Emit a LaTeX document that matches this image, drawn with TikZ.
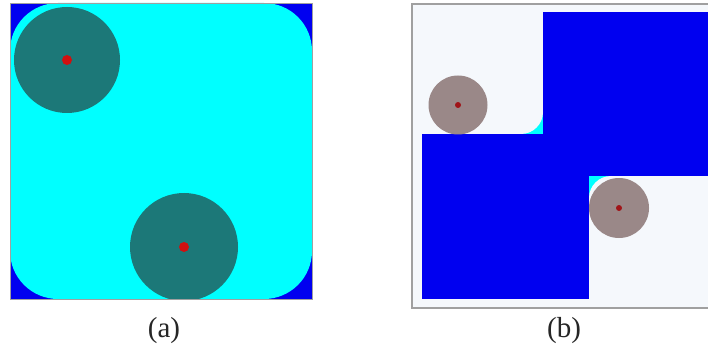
\documentclass[tikz,border=0pt]{standalone}
\usepackage{fontspec}
\setmainfont{Liberation Serif}
\usetikzlibrary{positioning}
\definecolor{Blu}    {HTML}{0000F0}
\definecolor{Cyn}    {HTML}{00FFFF}
\definecolor{TealD}  {HTML}{1C7878}
\definecolor{Paper}  {HTML}{F5F8FC}
\definecolor{Stone}  {HTML}{9A8888}
\definecolor{Dot}    {HTML}{D01010}
\definecolor{DotD}   {HTML}{A01418}
\definecolor{Frame}  {HTML}{A0A0A0}
\tikzset{
  robot/.style={fill=#1},
  centre/.style={fill=#1},
  caption/.style={
    font=\fontsize{29}{32}\selectfont, text=black!85,
    inner sep=0pt,
  },
}

\begin{document}
\begin{tikzpicture}[x=1pt,y=-1pt]
    \useasboundingbox (0,0) rectangle (708,355);

    % (a) free space with rounded corners
    \fill[Blu] (10,3) rectangle (312,299);
    \fill[Cyn, rounded corners=48pt] (10,3) rectangle (312,299);
    \begin{scope}
      \clip (10,3) rectangle (312,299);
      \fill[robot=TealD] (67,60)  circle[radius=53];
      \fill[robot=TealD] (184,247) circle[radius=54];
    \end{scope}
    \fill[centre=Dot] (67,60)  circle[radius=5];
    \fill[centre=Dot] (184,247) circle[radius=5];
    \draw[Frame, line width=0.8pt] (10,3) rectangle (312,299);

    % (b) obstacles and corner fillets
    \draw[Frame, line width=1.2pt, fill=Paper] (412,4) rectangle (712,308);
    \fill[Blu] (543,12)  rectangle (708,176);
    \fill[Blu] (422,134) rectangle (589,299);
    \begin{scope}
      \clip (521,112) rectangle (543,134);
      \fill[Cyn]   (521,112) rectangle (543,134);
      \fill[Paper] (521,112) circle[radius=22];
    \end{scope}
    \begin{scope}
      \clip (589,176) rectangle (611,198);
      \fill[Cyn]   (589,176) rectangle (611,198);
      \fill[Paper] (611,198) circle[radius=22];
    \end{scope}
    \fill[robot=Stone] (458,105) circle[radius=29.5];
    \fill[robot=Stone] (619,208) circle[radius=30];
    \fill[centre=DotD] (458,105) circle[radius=3];
    \fill[centre=DotD] (619,208) circle[radius=3];

    \node[caption] (capa) at (164,331) {(a)};
    \node[caption] (capb) at (564,331) {(b)};

\end{tikzpicture}
\end{document}
